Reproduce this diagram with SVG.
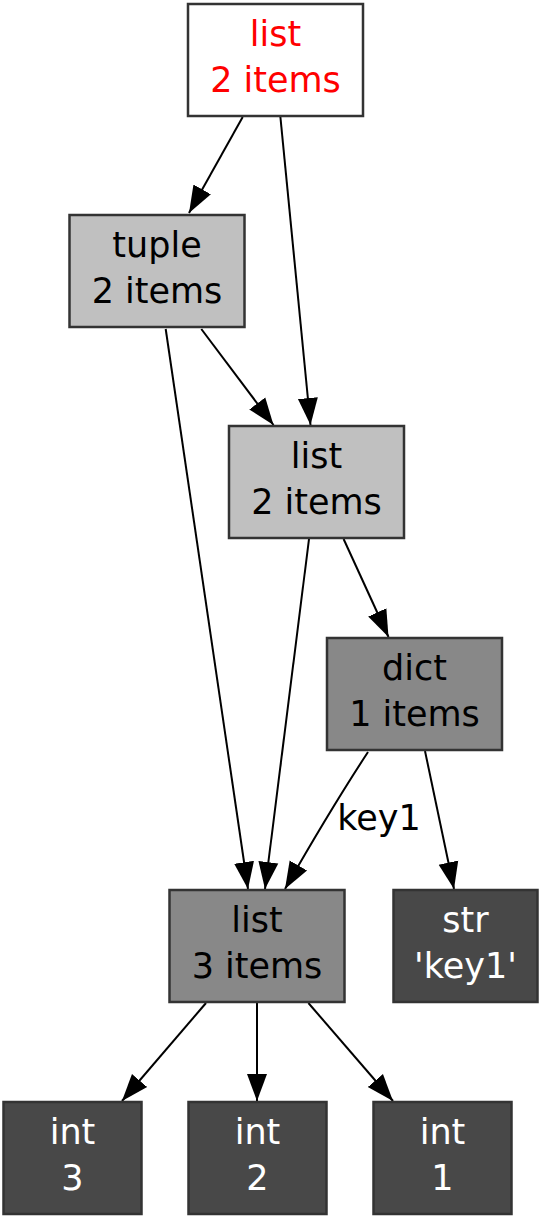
<svg xmlns="http://www.w3.org/2000/svg" width="541" height="1217" viewBox="0 0 541 1217">
<defs>
<marker id="arr" markerUnits="userSpaceOnUse" markerWidth="28" markerHeight="22" refX="27" refY="10" orient="auto" viewBox="0 0 28 20">
<path d="M0,0 L27,10 L0,20 Z" fill="#000"/>
</marker>
</defs>
<style>
rect{stroke:#333;stroke-width:2.5}
text{font-family:"DejaVu Sans",sans-serif;font-size:35px;text-anchor:middle}
.w{fill:#fff}.l{fill:#c0c0c0}.m{fill:#888}.d{fill:#484848}
.tr{fill:#ff0000}.tb{fill:#000}.tw{fill:#fff}
#edges path,#edges line{stroke:#000;stroke-width:2;fill:none;marker-end:url(#arr)}
</style>
<g id="edges">
<line x1="242.7" y1="117" x2="189" y2="213"/>
<line x1="280.4" y1="117" x2="310.5" y2="425"/>
<line x1="201.3" y1="329" x2="273.5" y2="425"/>
<line x1="165.7" y1="329" x2="248" y2="889"/>
<line x1="309" y1="539" x2="265" y2="889"/>
<line x1="343.6" y1="539" x2="388.5" y2="637"/>
<path d="M368,752 Q330,810 285,889"/>
<line x1="425" y1="751" x2="454" y2="889"/>
<line x1="206" y1="1003" x2="122" y2="1101"/>
<line x1="257" y1="1003" x2="257" y2="1101"/>
<line x1="308.4" y1="1003" x2="393" y2="1101"/>
<text x="379" y="830" class="tb">key1</text>
</g>
<g id="n1"><rect x="188" y="4" width="175" height="112" class="w"/><text x="275.5" y="45.5" class="tr">list</text><text x="275.5" y="91.5" class="tr">2 items</text></g>
<g id="n2"><rect x="69.5" y="215" width="175" height="112" class="l"/><text x="157" y="256.5" class="tb">tuple</text><text x="157" y="302.5" class="tb">2 items</text></g>
<g id="n3"><rect x="229" y="426" width="175" height="112" class="l"/><text x="316.5" y="467.5" class="tb">list</text><text x="316.5" y="513.5" class="tb">2 items</text></g>
<g id="n4"><rect x="327" y="638" width="175" height="112" class="m"/><text x="414.5" y="679.5" class="tb">dict</text><text x="414.5" y="725.5" class="tb">1 items</text></g>
<g id="n5"><rect x="169.5" y="890" width="175" height="112" class="m"/><text x="257" y="931.5" class="tb">list</text><text x="257" y="977.5" class="tb">3 items</text></g>
<g id="n6"><rect x="393.5" y="890" width="144" height="112" class="d"/><text x="465.5" y="931.5" class="tw">str</text><text x="465.5" y="977.5" class="tw">'key1'</text></g>
<g id="n7"><rect x="3.5" y="1102" width="138" height="112" class="d"/><text x="72.5" y="1143.5" class="tw">int</text><text x="72.5" y="1189.5" class="tw">3</text></g>
<g id="n8"><rect x="188.5" y="1102" width="138" height="112" class="d"/><text x="257.5" y="1143.5" class="tw">int</text><text x="257.5" y="1189.5" class="tw">2</text></g>
<g id="n9"><rect x="373.5" y="1102" width="138" height="112" class="d"/><text x="442.5" y="1143.5" class="tw">int</text><text x="442.5" y="1189.5" class="tw">1</text></g>
</svg>
